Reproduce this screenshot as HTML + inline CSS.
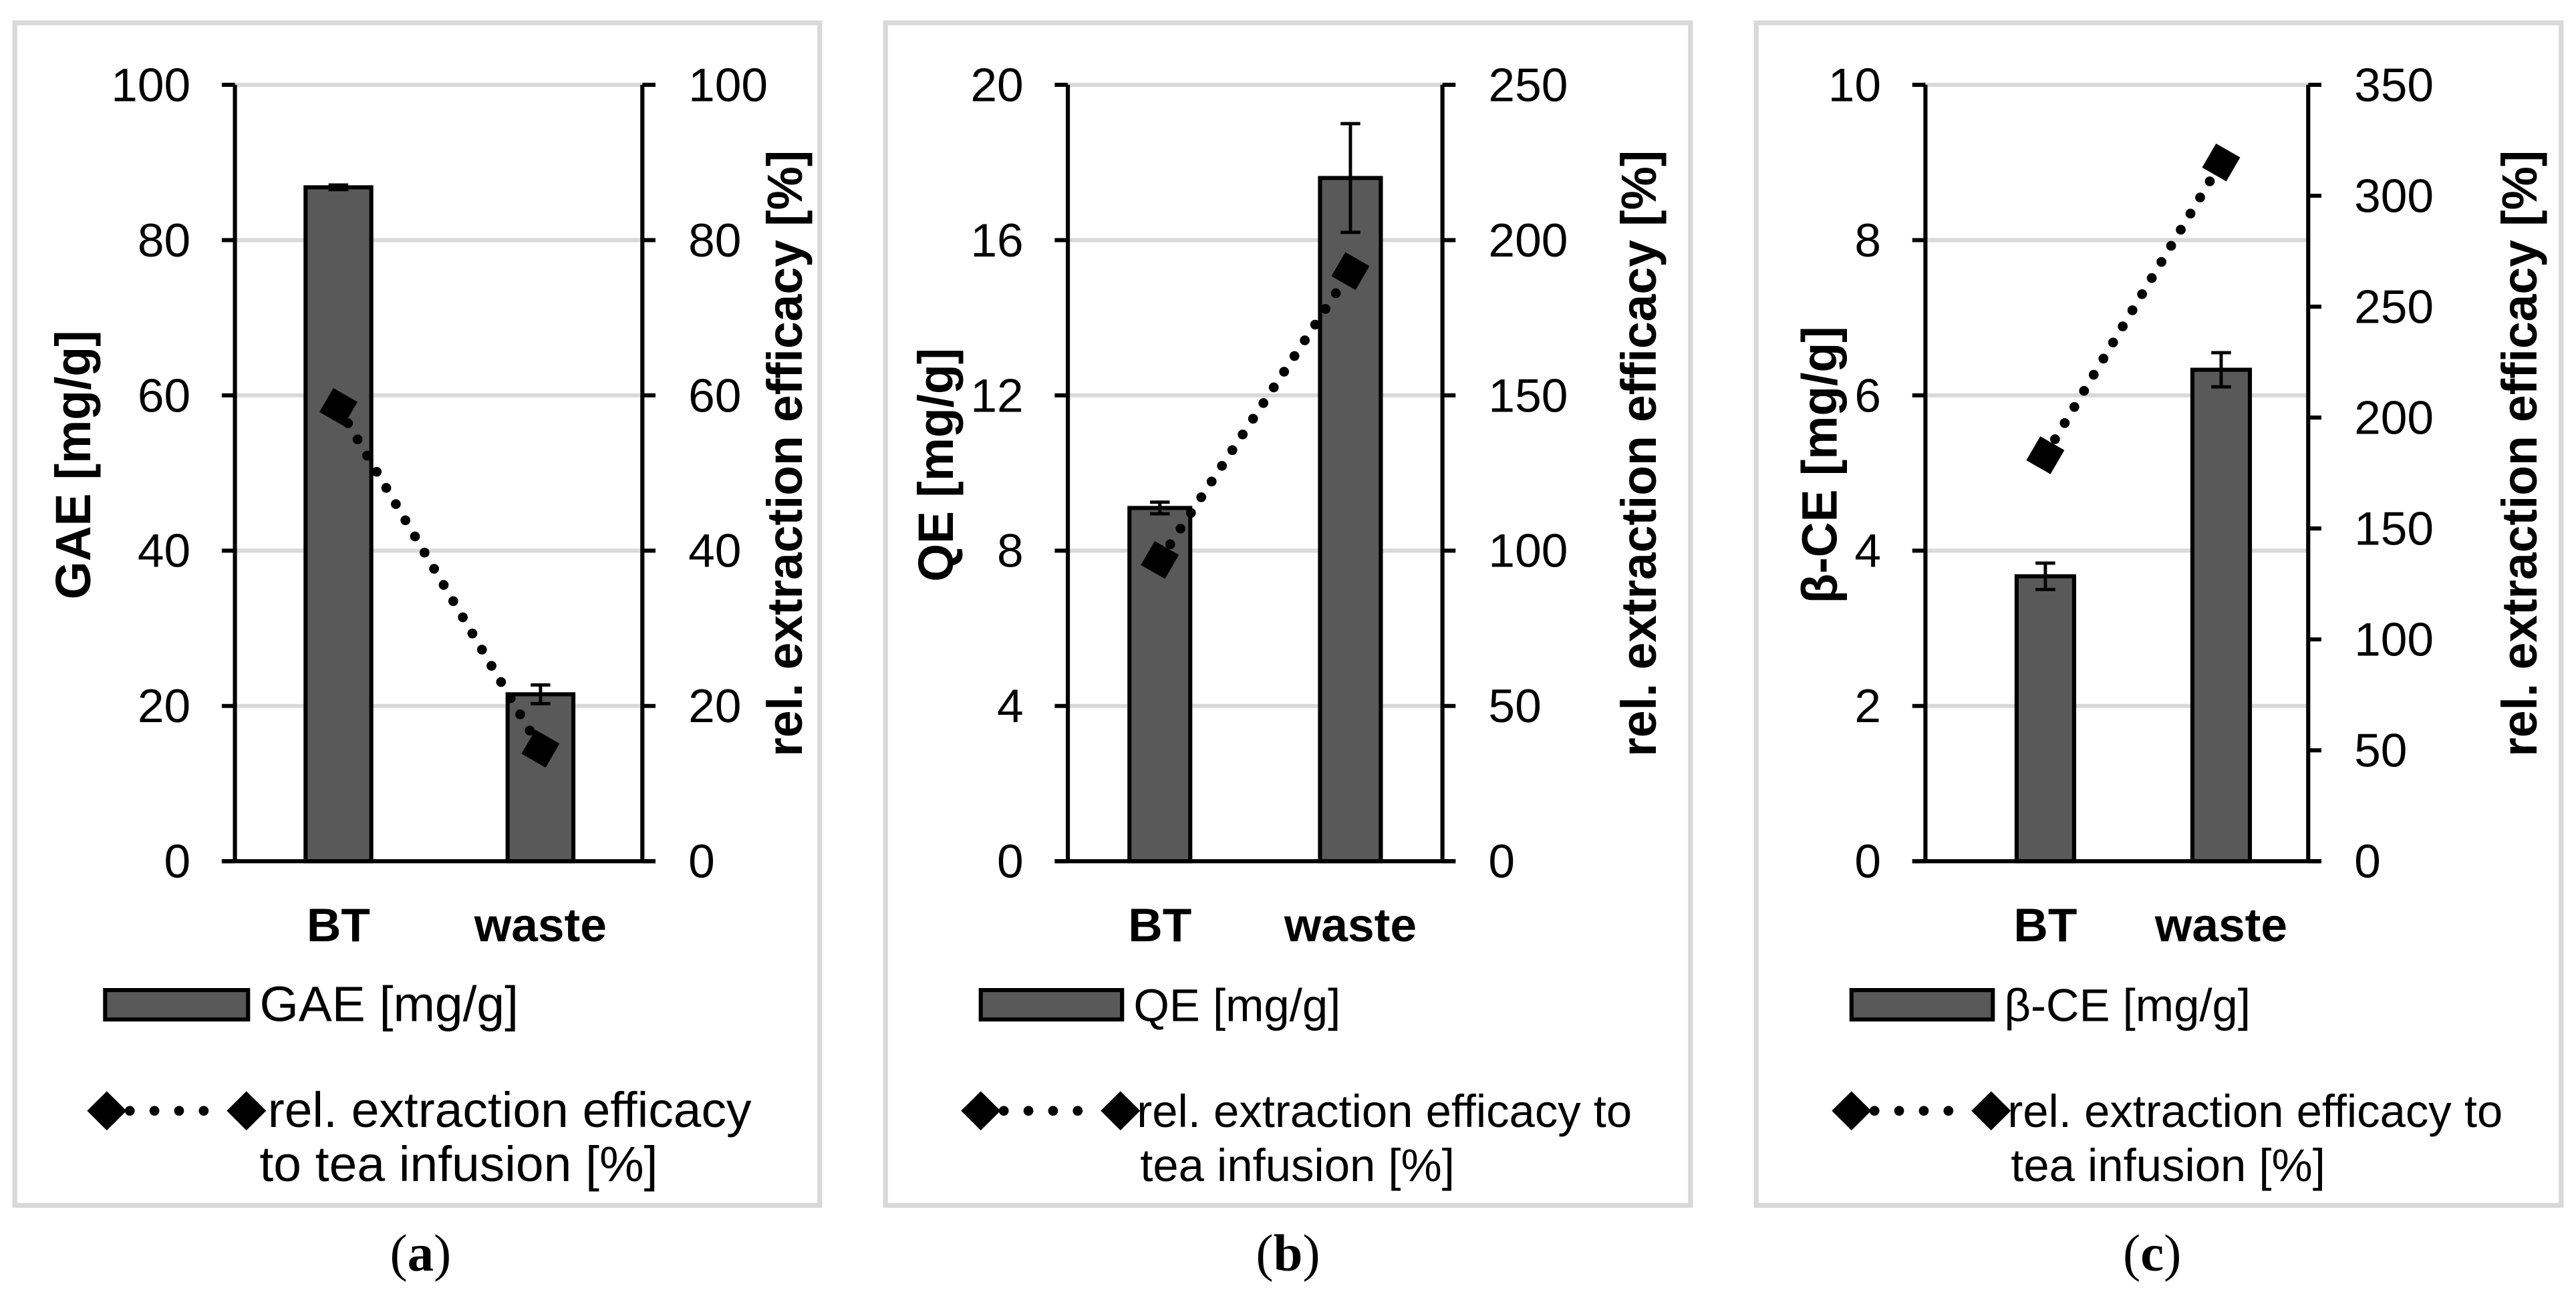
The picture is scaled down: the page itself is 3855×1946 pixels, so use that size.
<!DOCTYPE html>
<html><head><meta charset="utf-8"><style>
html,body{margin:0;padding:0;background:#fff;}
svg{display:block;}
text{font-family:"Liberation Sans",sans-serif;fill:#000;}
</style></head><body>
<svg id="fig" width="3855" height="1946" viewBox="0 0 1568 797" preserveAspectRatio="none" xmlns="http://www.w3.org/2000/svg"></svg>
<script>
const categories = ["BT", "waste"];
const gaeValues = [86.8, 21.5];
const gaeErrors = [0.3, 1.2];
const gaeEff = [58.5, 14.5];
const qeValues = [9.1, 17.6];
const qeErrors = [0.15, 1.4];
const qeEff = [97, 190];
const bceValues = [3.67, 6.33];
const bceErrors = [0.17, 0.22];
const bceEff = [183, 315];
const gaeLeftTicks = [0, 20, 40, 60, 80, 100];
const gaeRightTicks = [0, 20, 40, 60, 80, 100];
const qeLeftTicks = [0, 4, 8, 12, 16, 20];
const qeRightTicks = [0, 50, 100, 150, 200, 250];
const bceLeftTicks = [0, 2, 4, 6, 8, 10];
const bceRightTicks = [0, 50, 100, 150, 200, 250, 300, 350];

const NS = "http://www.w3.org/2000/svg";
const svg = document.getElementById("fig");
function el(tag, attrs, parent, txt) {
  const e = document.createElementNS(NS, tag);
  for (const k in attrs) e.setAttribute(k, attrs[k]);
  if (txt !== undefined) e.textContent = txt;
  (parent || svg).appendChild(e);
  return e;
}
function diamond(cx, cy, r, rot) {
  const pts = [];
  for (let i = 0; i < 4; i++) {
    const a = (rot + i * 90) * Math.PI / 180;
    pts.push((cx + r * Math.cos(a)).toFixed(1) + "," + (cy + r * Math.sin(a)).toFixed(1));
  }
  return pts.join(" ");
}

const panels = [
  {key:"a", box:[9,499], L:143, R:391, barX:[206,329], bw:40, vals:gaeValues, errs:gaeErrors, eff:gaeEff,
   lt:gaeLeftTicks, rt:gaeRightTicks, ytitle:"GAE [mg/g]", ytx:44, rtx:477, leg:"GAE [mg/g]", legFs:30.5,
   sw:[64,151], legTx:158, lineLeg:[65,150], l1:"rel. extraction efficacy", l2:"to tea infusion [%]", l1x:163, l2x:158, cap:"a", capx:256},
  {key:"b", box:[539,1029], L:650, R:878, barX:[706,822], bw:37, vals:qeValues, errs:qeErrors, eff:qeEff,
   lt:qeLeftTicks, rt:qeRightTicks, ytitle:"QE [mg/g]", ytx:569, rtx:997, leg:"QE [mg/g]", legFs:28,
   sw:[597,683], legTx:690, lineLeg:[597,682], l1:"rel. extraction efficacy to", l2:"tea infusion [%]", l1x:692, l2x:694, cap:"b", capx:784},
  {key:"c", box:[1069,1559], L:1172, R:1405, barX:[1245,1352], bw:35, vals:bceValues, errs:bceErrors, eff:bceEff,
   lt:bceLeftTicks, rt:bceRightTicks, ytitle:"β-CE [mg/g]", ytx:1107, rtx:1533, leg:"β-CE [mg/g]", legFs:28,
   sw:[1127,1213], legTx:1220, lineLeg:[1127,1212], l1:"rel. extraction efficacy to", l2:"tea infusion [%]", l1x:1222, l2x:1224, cap:"c", capx:1310}
];
const TOP = 52, BOT = 528;

panels.forEach(p => {
  const g = el("g", {});
  
  
  const frame = el("rect", {x:p.box[0], y:14, width:p.box[1]-p.box[0], height:725, fill:"none", stroke:"#d9d9d9", "stroke-width":3}, g);
  
  
  const lmax = p.lt[p.lt.length-1], rmax = p.rt[p.rt.length-1];
  const yL = v => BOT - v / lmax * (BOT - TOP);
  const yR = v => BOT - v / rmax * (BOT - TOP);
  p.lt.forEach(t => {
    if (t > 0) {
      const gl = el("line", {x1:p.L, x2:p.R, y1:yL(t), y2:yL(t), stroke:"#d9d9d9", "stroke-width":2.5}, g);
      
      
    }
    el("line", {x1:p.L-8, x2:p.L, y1:yL(t), y2:yL(t), stroke:"#000", "stroke-width":2.5}, g);
    const tl = el("text", {x:p.L-27, y:yL(t)+10, "font-size":29, "text-anchor":"end"}, g, String(t));
    
    
  });
  p.rt.forEach(t => {
    el("line", {x1:p.R, x2:p.R+8, y1:yR(t), y2:yR(t), stroke:"#000", "stroke-width":2.5}, g);
    const tl = el("text", {x:p.R+28, y:yR(t)+10, "font-size":29, "text-anchor":"start"}, g, String(t));
    
    
  });
  p.vals.forEach((v, i) => {
    const b = el("rect", {x:p.barX[i]-p.bw/2, y:yL(v), width:p.bw, height:BOT-yL(v), fill:"#595959", stroke:"#000", "stroke-width":2.5}, g);
    
    
    const e1 = yL(v + p.errs[i]), e2 = yL(v - p.errs[i]);
    const eb = el("path", {d:`M${p.barX[i]-6},${e1}H${p.barX[i]+6}M${p.barX[i]},${e1}V${e2}M${p.barX[i]-6},${e2}H${p.barX[i]+6}`, stroke:"#000", "stroke-width":2, fill:"none"}, g);
    
    
  });
  el("line", {x1:p.L, x2:p.L, y1:TOP, y2:BOT, stroke:"#000", "stroke-width":2.5}, g);
  el("line", {x1:p.R, x2:p.R, y1:TOP, y2:BOT, stroke:"#000", "stroke-width":2.5}, g);
  el("line", {x1:p.L-8, x2:p.R+8, y1:BOT, y2:BOT, stroke:"#000", "stroke-width":2.5}, g);
  const ln = el("line", {x1:p.barX[0], y1:yR(p.eff[0]), x2:p.barX[1], y2:yR(p.eff[1]), stroke:"#000", "stroke-width":6, "stroke-linecap":"round", "stroke-dasharray":"0 11.5"}, g);
  
  
  p.eff.forEach((v, i) => {
    const m = el("polygon", {points:diamond(p.barX[i], yR(v), 12, -15), fill:"#000"}, g);
    
    
  });
  categories.forEach((c, i) => {
    const t = el("text", {x:p.barX[i], y:577, "font-size":29, "font-weight":"bold", "text-anchor":"middle"}, g, c);
    
    
  });
  const yt = el("text", {transform:`translate(${p.ytx+11},285) rotate(-90)`, "font-size":30, "font-weight":"bold", "text-anchor":"middle"}, g, p.ytitle);
  
  
  const rt = el("text", {transform:`translate(${p.rtx+11},278) rotate(-90)`, "font-size":30, "font-weight":"bold", "text-anchor":"middle"}, g, "rel. extraction efficacy [%]");
  
  
  const ls = el("rect", {x:p.sw[0], y:607, width:p.sw[1]-p.sw[0], height:18, fill:"#595959", stroke:"#000", "stroke-width":2.5}, g);
  
  
  const lt1 = el("text", {x:p.legTx, y:626, "font-size":p.legFs}, g, p.leg);
  
  
  el("line", {x1:p.lineLeg[0]+14, x2:p.lineLeg[1]-12, y1:681, y2:681, stroke:"#000", "stroke-width":6, "stroke-linecap":"round", "stroke-dasharray":"0 15"}, g);
  p.lineLeg.forEach(x => el("polygon", {points:diamond(x, 681, 12, 0), fill:"#000"}, g));
  const lt2 = el("text", {x:p.l1x, y:691, "font-size":p.legFs}, g, p.l1);
  
  
  el("text", {x:p.l2x, y:724, "font-size":p.legFs}, g, p.l2);
  const cap = el("text", {x:p.capx, y:779, "font-size":32, "text-anchor":"middle", style:'font-family:"Liberation Serif",serif'}, g);
  
  
  el("tspan", {}, cap, "(");
  el("tspan", {"font-weight":"bold"}, cap, p.cap);
  el("tspan", {}, cap, ")");
});
</script>
</body></html>
